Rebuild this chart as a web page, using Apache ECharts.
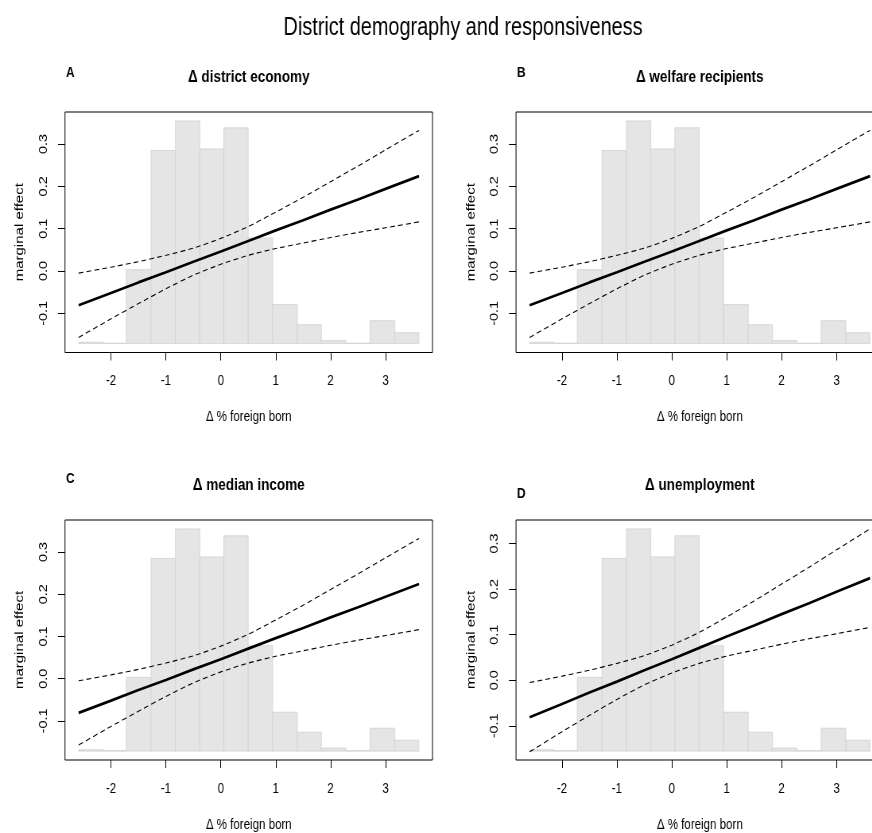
<!DOCTYPE html>
<html>
<head>
    <meta charset="utf-8">
    <title>District demography and responsiveness</title>
    <script src="https://cdn.jsdelivr.net/npm/echarts@6/dist/echarts.min.js"></script>
    <style>
        html, body { margin: 0; padding: 0; background: #fff; overflow: hidden; }
        #wrap { width: 872px; height: 833px; overflow: hidden; }
        /* the reference is squeezed horizontally, so the chart is drawn wider and scaled back */
        #main { width: 1120px; height: 833px; transform: scaleX(0.795); transform-origin: 0 0; }
    </style>
</head>
<body>
<div id="wrap"><div id="main"></div></div>
<script>
    // values
    var xPoints  = [-2.59, -2, -1.5, -1, -0.5, 0, 0.5, 1, 1.5, 2, 2.5, 3, 3.61];
    var effect   = [-0.081, -0.052, -0.027, -0.003, 0.022, 0.046, 0.071, 0.096, 0.120, 0.145, 0.169, 0.194, 0.224];
    var upperCI  = [-0.005, 0.009, 0.022, 0.037, 0.054, 0.077, 0.105, 0.139, 0.174, 0.211, 0.248, 0.286, 0.332];
    var lowerCI  = [-0.157, -0.113, -0.077, -0.042, -0.010, 0.016, 0.037, 0.053, 0.066, 0.079, 0.091, 0.102, 0.116];

    // histogram of the moderator (relative heights)
    var histEdges   = [-2.59, -2.147, -1.721, -1.271, -0.827, -0.383, 0.055, 0.499, 0.943, 1.393, 1.832, 2.276, 2.72, 3.17, 3.608];
    var histHeights = [0.006, 0.002, 0.332, 0.867, 1.0, 0.874, 0.969, 0.474, 0.175, 0.085, 0.0135, 0.002, 0.103, 0.049];

    var xTicks = [-2, -1, 0, 1, 2, 3];
    var yTicks = [-0.1, 0, 0.1, 0.2, 0.3];

    var mainTitle    = 'District demography and responsiveness';
    var panelLetters = ['A', 'B', 'C', 'D'];
    var panelTitles  = ['Δ district economy', 'Δ welfare recipients', 'Δ median income', 'Δ unemployment'];
    var xName = 'Δ % foreign born';
    var yName = 'marginal effect';
    var xRange = [-2.59, 3.608];
    var panelYRange = [[-0.1715, 0.3545], [-0.1715, 0.3545], [-0.1715, 0.3545], [-0.1554, 0.332]];

    // layout (horizontal sizes given in screen px, divided by the squeeze)
    var S = 0.795;
    function hx(v) { return v / S; }
    var font = "'Liberation Sans', Arial, Helvetica, sans-serif";
    var gridLeft = [65, 516, 65, 516];
    var gridTop = [112, 112, 520, 520];
    var gridW = 367.5, gridH = 240.5;
    var letterY = [72.5, 73, 479, 494];
    var titleY = [77, 77, 485, 485];

    function pad(r) {
        var d = (r[1] - r[0]) * 0.04;
        return [r[0] - d, r[1] + d];
    }
    function pairs(xs, ys) {
        return xs.map(function (x, i) { return [x, ys[i]]; });
    }
    var histData = histHeights.map(function (h, i) { return [histEdges[i], histEdges[i + 1], h]; });

    var grids = [], xAxes = [], yAxes = [], series = [], graphics = [];
    var xr = pad(xRange);

    for (var i = 0; i < 4; i++) {
        var yr = pad(panelYRange[i]);
        grids.push({
            left: hx(gridLeft[i]), top: gridTop[i], width: hx(gridW), height: gridH,
            show: true, borderColor: '#000', borderWidth: 1, backgroundColor: 'transparent'
        });
        xAxes.push({
            type: 'value', gridIndex: i, min: xr[0], max: xr[1],
            name: xName, nameLocation: 'middle', nameGap: 57,
            nameTextStyle: { fontFamily: font, fontSize: 14.5, color: '#000' },
            axisLine: { show: false, onZero: false },
            axisTick: { show: true, length: 8, lineStyle: { color: '#000' }, customValues: xTicks },
            axisLabel: { fontFamily: font, fontSize: 14.5, color: '#000', margin: 21, customValues: xTicks },
            splitLine: { show: false }
        });
        yAxes.push({
            type: 'value', gridIndex: i, min: yr[0], max: yr[1],
            name: yName, nameLocation: 'middle', nameGap: 49, nameRotate: 90,
            nameTextStyle: { fontFamily: font, fontSize: 15, color: '#000' },
            axisLine: { show: false, onZero: false },
            axisTick: { show: true, length: hx(7), lineStyle: { color: '#000' }, customValues: yTicks },
            axisLabel: {
                fontFamily: font, fontSize: 14.5, color: '#000', rotate: 90, margin: 19.5,
                customValues: yTicks,
                formatter: function (v) { return v.toFixed(1); }
            },
            splitLine: { show: false }
        });
        yAxes.push({
            type: 'value', gridIndex: i, min: -0.04, max: 1.04, show: false
        });

        series.push({
            type: 'custom', xAxisIndex: i, yAxisIndex: 2 * i + 1, z: 1, clip: true,
            data: histData,
            encode: { x: [0, 1], y: 2 },
            renderItem: function (params, api) {
                var p0 = api.coord([api.value(0), 0]);
                var p1 = api.coord([api.value(1), api.value(2)]);
                return {
                    type: 'rect',
                    shape: { x: p0[0], y: p1[1], width: p1[0] - p0[0], height: p0[1] - p1[1] },
                    style: { fill: '#e5e5e5', stroke: '#d0d0d0', lineWidth: 0.8 }
                };
            }
        });
        series.push({
            type: 'line', xAxisIndex: i, yAxisIndex: 2 * i, z: 3, showSymbol: false,
            data: pairs(xPoints, effect), lineStyle: { color: '#000', width: 2.7 }
        });
        [upperCI, lowerCI].forEach(function (band) {
            series.push({
                type: 'line', xAxisIndex: i, yAxisIndex: 2 * i, z: 3, showSymbol: false,
                data: pairs(xPoints, band), smooth: 0.2,
                lineStyle: { color: '#000', width: 1.1, type: [6, 4] }
            });
        });

        graphics.push({
            type: 'text', x: hx(gridLeft[i] + 1), y: letterY[i],
            style: { text: panelLetters[i], fontFamily: font, fontWeight: 'bold', fontSize: 15, fill: '#000', textAlign: 'left', textVerticalAlign: 'middle' }
        });
        graphics.push({
            type: 'text', x: hx(gridLeft[i] + gridW / 2), y: titleY[i],
            style: { text: panelTitles[i], fontFamily: font, fontWeight: 'bold', fontSize: 17, fill: '#000', textAlign: 'center', textVerticalAlign: 'middle' }
        });
    }

    graphics.push({
        type: 'text', x: hx(463), y: 28.5,
        style: { text: mainTitle, fontFamily: font, fontSize: 25, fill: '#000', textAlign: 'center', textVerticalAlign: 'middle' }
    });

    var myChart = echarts.init(document.getElementById('main'));
    myChart.setOption({
        animation: false,
        backgroundColor: '#fff',
        grid: grids,
        xAxis: xAxes,
        yAxis: yAxes,
        series: series,
        graphic: graphics
    });
</script>
</body>
</html>
